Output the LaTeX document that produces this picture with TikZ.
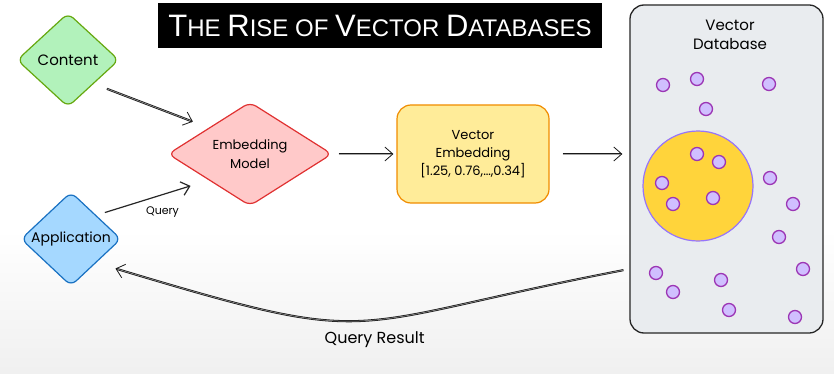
\documentclass[tikz,border=0pt]{standalone}
\usepackage{fontspec}
\setmainfont{Poppins}
\newfontfamily\titlefont{Liberation Sans}
\usetikzlibrary{shapes.geometric,arrows.meta,positioning}

\definecolor{contentfill}{HTML}{B2F2BB}
\definecolor{contentline}{HTML}{66A80F}
\definecolor{modelfill}{HTML}{FFC9C9}
\definecolor{modelline}{HTML}{E03131}
\definecolor{appfill}{HTML}{A5D8FF}
\definecolor{appline}{HTML}{1971C2}
\definecolor{vecfill}{HTML}{FFEC99}
\definecolor{vecline}{HTML}{F08C00}
\definecolor{dbfill}{HTML}{E9ECEF}
\definecolor{hitfill}{HTML}{FFD43B}
\definecolor{hitline}{HTML}{9775FA}
\definecolor{dotfill}{HTML}{D0BFFF}
\definecolor{dotline}{HTML}{9C36B5}

\newcommand\Cap[1]{{\fontsize{31}{33}\selectfont #1}}

\tikzset{
  flow/.style={diamond, draw, line width=1.2pt, rounded corners=7pt, inner sep=0pt,
    align=center, font=\fontsize{15}{18}\selectfont},
  dbl/.style={draw=black!90, line width=0.8pt, double=black!35, double distance=0.5pt,
    -{Straight Barb[length=8pt,width=14pt]}},
  sgl/.style={draw=black!85, line width=1.2pt, -{Straight Barb[length=8pt,width=14pt]}},
  dot/.style={circle, draw=dotline, fill=dotfill, line width=1.3pt, minimum size=13pt, inner sep=0pt},
  lbl/.style={font=\fontsize{11}{13}\selectfont},
}

\begin{document}
\begin{tikzpicture}[x=1pt,y=-1pt]
  \useasboundingbox (0,0) rectangle (834,374);
  \fill[white] (0,0) rectangle (834,374);
  \shade[top color=white, bottom color=black!6] (0,230) rectangle (834,374);

  % title
  \node[fill=black, text=white, minimum width=444pt, minimum height=45pt, inner sep=0pt,
    font=\titlefont\fontsize{24}{26}\selectfont] (title) at (380,25.5)
    {\Cap{T}HE \Cap{R}ISE OF \Cap{V}ECTOR \Cap{D}ATABASES};

  % sources and model
  \node[flow, draw=contentline, fill=contentfill, minimum width=102pt, minimum height=94pt] (content) at (68,60) {Content};
  \node[flow, draw=appline, fill=appfill, minimum width=100pt, minimum height=93pt,
    font=\fontsize{14}{17}\selectfont] (app) at (71,239) {Application};
  \node[flow, draw=modelline, fill=modelfill, minimum width=164pt, minimum height=92pt,
    font=\fontsize{13}{19}\selectfont] (model) at (250,154) {Embedding\\Model};
  \node[draw=vecline, fill=vecfill, line width=1.2pt, rounded corners=14pt, minimum width=152pt,
    minimum height=98pt, align=center, font=\fontsize{13}{18}\selectfont] (vec) at (473,154)
    {Vector\\Embedding\\{[1.25, 0.76,\dots,0.34]}};

  % database
  \node[draw=black!85, fill=dbfill, line width=1.3pt, rounded corners=14pt, minimum width=193pt,
    minimum height=328pt] (db) at (726.5,169) {};
  \node[align=center, font=\fontsize{15}{19}\selectfont] (dbname) at (730,35) {Vector\\Database};
  \node[circle, fill=hitfill, draw=hitline, line width=1.2pt, minimum size=110pt] (near) at (698,186) {};
  \foreach \px/\py [count=\i] in {663/85, 697/79, 769/84, 706/109, 697/154, 719/162, 662/183,
      713/198, 673/204, 770/178, 793/204, 779/237, 803/269, 656/273, 673/292, 721/280, 729/310, 795/317}
    \node[dot] (dot\i) at (\px,\py) {};

  % arrows
  \draw[dbl, shorten <=14pt, shorten >=17pt] (content.south east) -- (model.north west);
  \draw[sgl, shorten <=9pt, shorten >=19pt] (app.north east) -- node[lbl, midway, below=5pt, xshift=10pt] (qlabel) {Query} (model.south west);
  \draw[dbl, shorten <=6pt, shorten >=3pt] (model.east) -- (vec.west);
  \draw[dbl, shorten <=13pt, shorten >=7pt] (vec.east) -- (vec.east -| db.west);
  \draw[dbl, shorten <=6pt, shorten >=20pt] ([yshift=-100pt]db.west) .. controls (333,326) and (387,350) ..
    node[pos=0.5, below=8pt, xshift=14pt, font=\fontsize{16}{18}\selectfont] (qrlabel) {Query Result} (app.south east);
\end{tikzpicture}
\end{document}
